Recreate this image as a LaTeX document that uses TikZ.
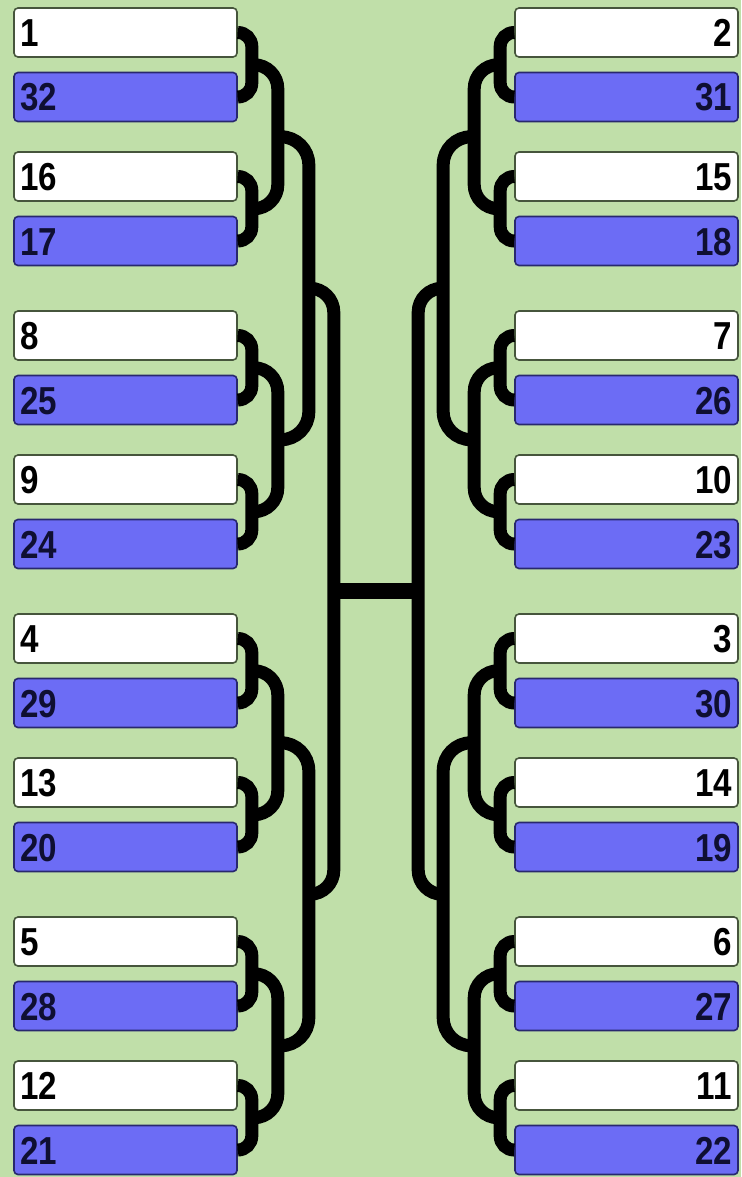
\documentclass[tikz,border=0pt]{standalone}
\usepackage{fontspec}
\usepackage{tikz}
\usetikzlibrary{calc}
\newfontfamily\seedfont[FakeStretch=0.85]{Liberation Sans}
\definecolor{fieldgreen}{RGB}{192, 223, 169}
\definecolor{seedblue}{RGB}{108, 108, 245}
\definecolor{boxedge}{RGB}{70, 85, 60}
\definecolor{blueedge}{RGB}{40, 40, 110}
\definecolor{seedtext}{RGB}{15, 15, 50}
\tikzset{
    seedbox/.style={rectangle, rounded corners=4pt, line width=1.6pt, inner xsep=6pt, inner ysep=0pt, minimum height=49pt, text width=211pt, text height=28pt, text depth=0pt, font=\seedfont\bfseries\fontsize{39}{39}\selectfont},
    topseed/.style={seedbox, draw=boxedge, fill=white, text=black},
    lowseed/.style={seedbox, draw=blueedge, fill=seedblue, text=seedtext},
    wire/.style={draw=black, line width=13pt, rounded corners=14pt}
}
\begin{document}
\begin{tikzpicture}[x=1pt, y=-1pt]

    \fill[fieldgreen] (0,0) rectangle (741,1177);

    % --- LEFT HALF ---
    \foreach \a/\b/\y in {1/32/32.5, 16/17/176.5, 8/25/335.5, 9/24/479.5, 4/29/638.5, 13/20/782.5, 5/28/941.5, 12/21/1085.5}{
        \node[topseed, align=left] (s\a) at (125.5,\y) {\a};
        \node[lowseed, align=left] (s\b) at (125.5,\y+64.5) {\b};
        \draw[wire] (s\a.east) -| ($(s\a.east)!.5!(s\b.east)+(14,0)$) coordinate (j\a) |- (s\b.east);
    }

    % --- RIGHT HALF ---
    \foreach \a/\b/\y in {2/31/32.5, 15/18/176.5, 7/26/335.5, 10/23/479.5, 3/30/638.5, 14/19/782.5, 6/27/941.5, 11/22/1085.5}{
        \node[topseed, align=right] (s\a) at (626.5,\y) {\a};
        \node[lowseed, align=right] (s\b) at (626.5,\y+64.5) {\b};
        \draw[wire] (s\a.west) -| ($(s\a.west)!.5!(s\b.west)+(-14,0)$) coordinate (j\a) |- (s\b.west);
    }

    % Second round
    \foreach \a/\b in {1/16, 8/9, 4/13, 5/12}
        \draw[wire, rounded corners=24pt] (j\a) -| ($(j\a)!.5!(j\b)+(26,0)$) coordinate (k\a) |- (j\b);
    \foreach \a/\b in {2/15, 7/10, 3/14, 6/11}
        \draw[wire, rounded corners=24pt] (j\a) -| ($(j\a)!.5!(j\b)+(-26,0)$) coordinate (k\a) |- (j\b);

    % Quarter and semi finals
    \foreach \a/\b in {1/8, 4/5}
        \draw[wire, rounded corners=28pt] (k\a) -| ($(k\a)!.5!(k\b)+(31,0)$) coordinate (m\a) |- (k\b);
    \foreach \a/\b in {2/7, 3/6}
        \draw[wire, rounded corners=28pt] (k\a) -| ($(k\a)!.5!(k\b)+(-31,0)$) coordinate (m\a) |- (k\b);
    \draw[wire, rounded corners=24pt] (m1) -| ($(m1)!.5!(m4)+(25,0)$) coordinate (n1) |- (m4);
    \draw[wire, rounded corners=24pt] (m2) -| ($(m2)!.5!(m3)+(-25,0)$) coordinate (n2) |- (m3);

    % Final
    \draw[line width=16pt] (n1) -- (n2);

\end{tikzpicture}
\end{document}
